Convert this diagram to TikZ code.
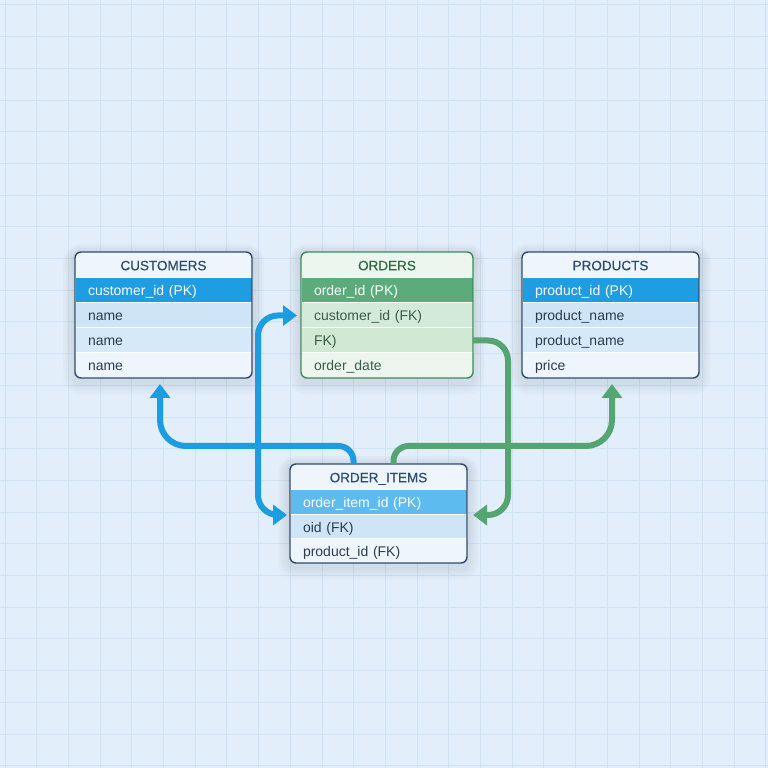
\documentclass[tikz,border=0pt]{standalone}
\usepackage{fontspec}
\setmainfont{Liberation Sans}
\newfontfamily\titlefont{Liberation Sans}[FakeBold=0.6]
\usetikzlibrary{positioning, arrows.meta, backgrounds}

\definecolor{bgblue}{HTML}{E2EEFA}
\definecolor{gridblue}{HTML}{D0E3F5}
\definecolor{navy}{HTML}{2E4C6E}
\definecolor{textdark}{HTML}{2A3C50}
\definecolor{pkblue}{HTML}{1E9DE2}
\definecolor{pklight}{HTML}{5DBBEE}
\definecolor{rowblue}{HTML}{CFE4F7}
\definecolor{rowblueb}{HTML}{D6E9F8}
\definecolor{paleblue}{HTML}{EEF5FC}
\definecolor{darkgreen}{HTML}{3E8A59}
\definecolor{titlegreen}{HTML}{2E6B44}
\definecolor{textgreen}{HTML}{3A5C47}
\definecolor{pkgreen}{HTML}{5CAB7A}
\definecolor{rowgreen}{HTML}{D3EAD9}
\definecolor{rowgreenb}{HTML}{D0E8D4}
\definecolor{palegreen}{HTML}{EDF6EE}
\definecolor{arrowblue}{HTML}{1C9CE1}
\definecolor{arrowgreen}{HTML}{55A572}
\definecolor{shade}{HTML}{2E4C6E}

\tikzset{
  field/.style={rectangle, minimum height=25pt, inner xsep=13pt, inner ysep=0pt,
    outer sep=0pt, align=left, text height=13.5pt, text depth=3pt,
    text=textdark, draw=white, line width=1pt},
  pkfield/.style={field, fill=pkblue, text=white},
  lastfield/.style={field, draw=none},
  tabletitle/.style={field, align=center, minimum height=26pt, draw=none, text=navy,
    font=\titlefont\fontsize{13.5}{16}\selectfont},
  tableback/.style={rounded corners=6pt, fill=paleblue},
  tableborder/.style={rounded corners=6pt, line width=1.4pt},
  link/.style={line width=6pt, rounded corners=20pt, ->}
}

\begin{document}
\begin{tikzpicture}[x=1pt, y=1pt, font=\fontsize{14}{16}\selectfont,
    >={Triangle[width=20pt, length=14pt]}]
  \useasboundingbox (0,0) rectangle (768,768);

  % background grid
  \begin{scope}[on background layer]
    \fill[bgblue] (0,0) rectangle (768,768);
    \foreach \i in {0,...,24} {
      \draw[gridblue, line width=1pt] (5+31.7*\i,0) -- ++(0,768);
      \draw[gridblue, line width=1pt] (0,763-31.7*\i) -- ++(768,0);
    }
  \end{scope}

  % CUSTOMERS
  \begin{scope}[text width=151pt]
    \node[tabletitle, anchor=north west] (cust) at (75,516) {CUSTOMERS};
    \node[pkfield, below=0pt of cust] (cust-pk) {customer\_id (PK)};
    \node[field, fill=rowblue, below=0pt of cust-pk] (cust-r1) {name};
    \node[field, fill=rowblueb, below=0pt of cust-r1] (cust-r2) {name};
    \node[lastfield, below=0pt of cust-r2] (cust-last) {name};
  \end{scope}

  % ORDERS
  \begin{scope}[text width=146pt]
    \node[tabletitle, text=titlegreen, anchor=north west] (ord) at (301,516) {ORDERS};
    \node[pkfield, fill=pkgreen, below=0pt of ord] (ord-pk) {order\_id (PK)};
    \node[field, text=textgreen, fill=rowgreen, below=0pt of ord-pk] (ord-r1) {customer\_id (FK)};
    \node[field, text=textgreen, fill=rowgreenb, below=0pt of ord-r1] (ord-r2) {FK)};
    \node[lastfield, text=textgreen, below=0pt of ord-r2] (ord-last) {order\_date};
  \end{scope}

  % PRODUCTS
  \begin{scope}[text width=151pt]
    \node[tabletitle, anchor=north west] (prod) at (522,516) {PRODUCTS};
    \node[pkfield, below=0pt of prod] (prod-pk) {product\_id (PK)};
    \node[field, fill=rowblue, below=0pt of prod-pk] (prod-r1) {product\_name};
    \node[field, fill=rowblueb, below=0pt of prod-r1] (prod-r2) {product\_name};
    \node[lastfield, below=0pt of prod-r2] (prod-last) {price};
  \end{scope}

  % ORDER_ITEMS
  \begin{scope}[text width=151pt]
    \node[tabletitle, anchor=north west] (oi) at (290,304) {ORDER\_ITEMS};
    \node[pkfield, fill=pklight, below=0pt of oi] (oi-pk) {order\_item\_id (PK)};
    \node[field, fill=rowblue, minimum height=24pt, below=0pt of oi-pk] (oi-r1) {oid (FK)};
    \node[lastfield, minimum height=24pt, below=0pt of oi-r1] (oi-last) {product\_id (FK)};
  \end{scope}

  % table frames with soft shadow
  \begin{scope}[on background layer]
    \foreach \t in {cust, ord, prod, oi}
      \foreach \r in {2,4,...,12}
        \fill[shade, opacity=0.01, rounded corners=6pt+\r]
          ([shift={(-\r,\r-4)}]\t.north west) rectangle ([shift={(\r,-\r-5)}]\t-last.south east);
    \foreach \t in {cust, prod, oi}
      \path[tableback] (\t.north west) rectangle (\t-last.south east);
    \path[tableback, fill=palegreen] (ord.north west) rectangle (ord-last.south east);
  \end{scope}
  \foreach \t/\c in {cust/navy, ord/darkgreen, prod/navy, oi/navy}
    \draw[tableborder, \c] (\t.north west) rectangle (\t-last.south east);

  % relations
  \draw[link, arrowblue] ([xshift=-25pt]oi.north) [rounded corners=15pt] -- ++(0,18)
    [rounded corners=26pt] -| ([xshift=-3.5pt, yshift=-6pt]cust-last.south);
  \draw[link, arrowblue, <->] ([xshift=-4pt]ord-r1.west) -- ([xshift=-43pt]ord-r1.west)
    |- ([xshift=-3pt]oi-pk.south west);
  \draw[link, arrowgreen] (ord-r2.east) -- ([xshift=35pt]ord-r2.east)
    |- ([xshift=6pt]oi-pk.south east);
  \draw[link, arrowgreen] ([xshift=15pt]oi.north) [rounded corners=15pt] -- ++(0,18)
    [rounded corners=26pt] -| ([xshift=1.5pt, yshift=-6pt]prod-last.south);
\end{tikzpicture}
\end{document}
